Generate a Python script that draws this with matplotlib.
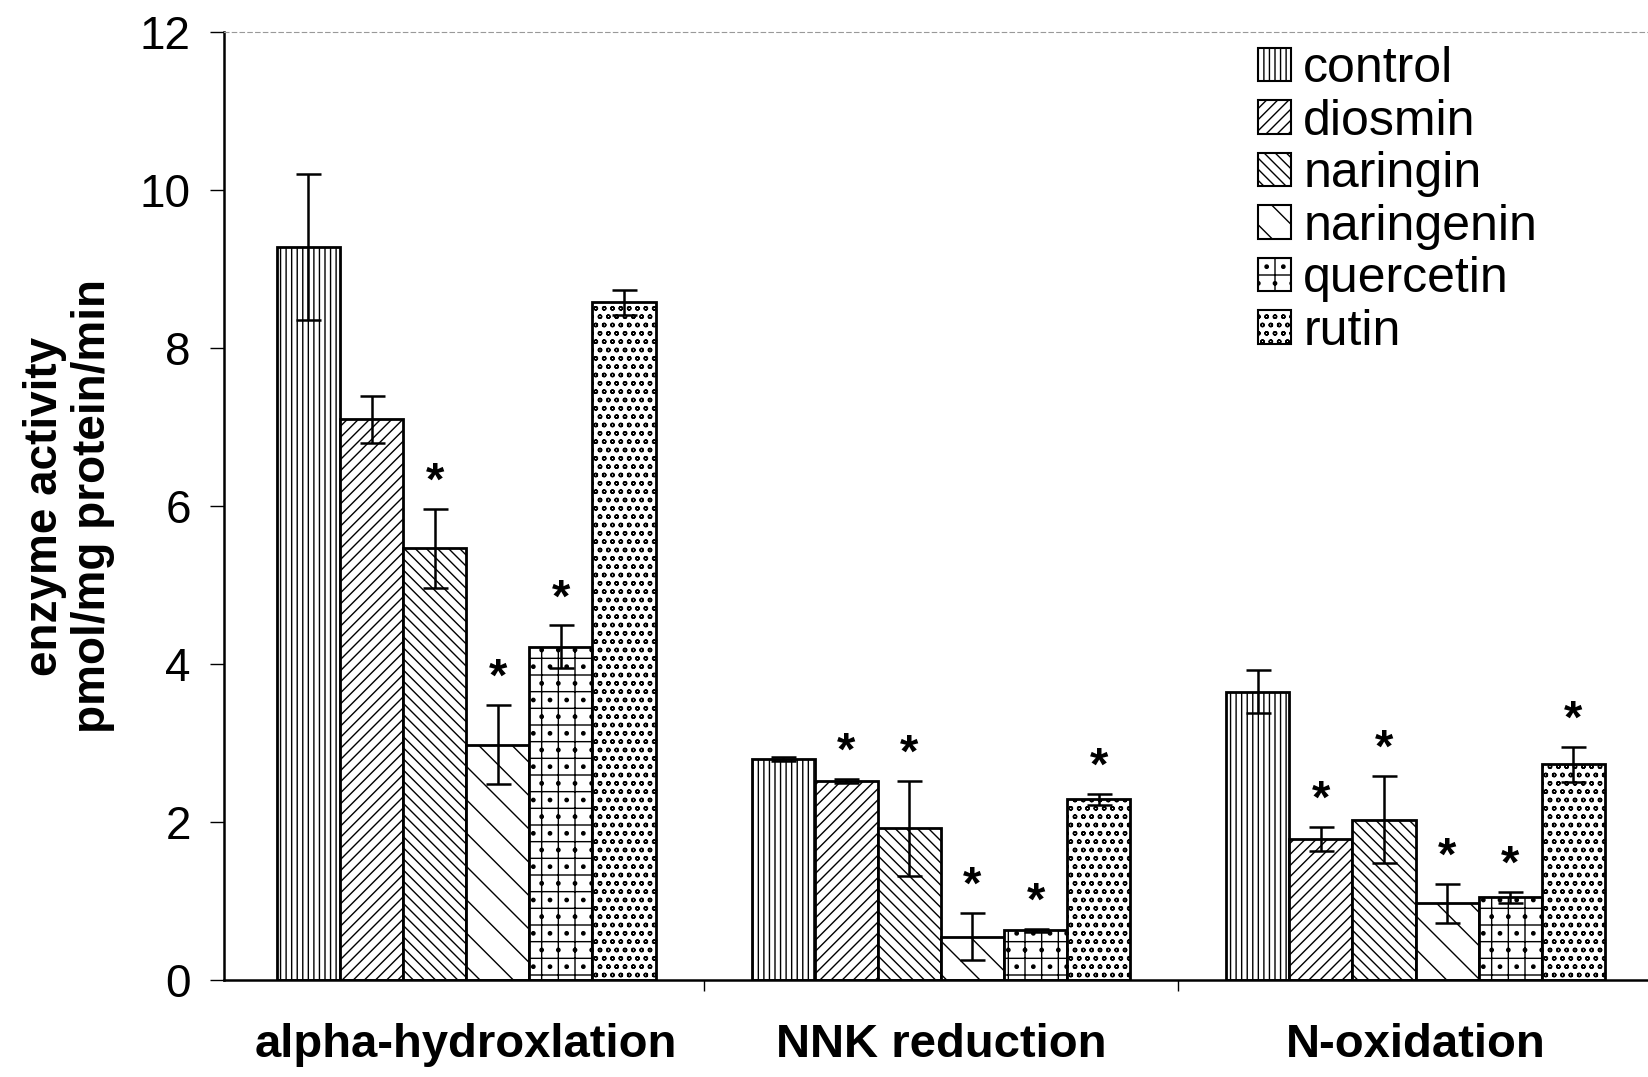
import numpy as np
import matplotlib.pyplot as plt
from matplotlib.patches import Patch

plt.rcParams['font.family'] = ['Liberation Sans', 'DejaVu Sans']
plt.rcParams['hatch.color'] = '#666666'
plt.rcParams['hatch.linewidth'] = 1.0

# data
categories = ['alpha-hydroxlation', 'NNK reduction', 'N-oxidation']
treatments = ['control', 'diosmin', 'naringin', 'naringenin', 'quercetin', 'rutin']

control = [9.28, 2.80, 3.65]
diosmin = [7.10, 2.52, 1.79]
naringin = [5.47, 1.92, 2.03]
naringenin = [2.98, 0.55, 0.97]
quercetin = [4.22, 0.63, 1.05]
rutin = [8.58, 2.29, 2.73]

control_err = [0.92, 0.03, 0.27]
diosmin_err = [0.30, 0.03, 0.15]
naringin_err = [0.50, 0.60, 0.55]
naringenin_err = [0.50, 0.30, 0.25]
quercetin_err = [0.27, 0.02, 0.07]
rutin_err = [0.16, 0.07, 0.22]

# significance stars (1 = marked)
control_sig = [0, 0, 0]
diosmin_sig = [0, 1, 1]
naringin_sig = [1, 1, 1]
naringenin_sig = [1, 1, 1]
quercetin_sig = [1, 1, 1]
rutin_sig = [0, 1, 1]

values = [control, diosmin, naringin, naringenin, quercetin, rutin]
errors = [control_err, diosmin_err, naringin_err, naringenin_err, quercetin_err, rutin_err]
sigs = [control_sig, diosmin_sig, naringin_sig, naringenin_sig, quercetin_sig, rutin_sig]
hatches = ['|||', '///', '\\\\\\', '\\', '+.', 'oo']

fig = plt.figure(figsize=(16.48, 10.77), dpi=100)
ax = fig.add_axes([0.136, 0.090, 0.867, 0.880])

x = np.arange(len(categories))
width = 0.133
for i, name in enumerate(treatments):
    pos = x + (i - 2.5) * width
    ax.bar(pos, values[i], width, color='white', edgecolor='black', linewidth=2,
           hatch=hatches[i], zorder=2)
    ax.errorbar(pos, values[i], yerr=errors[i], fmt='none', ecolor='black',
                elinewidth=1.8, capsize=9, capthick=1.8, zorder=3)
    for j in range(len(categories)):
        if sigs[i][j]:
            ax.annotate('*', (pos[j], values[i][j] + errors[i][j]),
                        textcoords='offset points', xytext=(0, 3),
                        ha='center', va='bottom', fontsize=34, fontweight='bold')

ax.set_xlim(-0.51, 2.5)
ax.set_ylim(0, 12)
ax.set_yticks(np.arange(0, 13, 2))
ax.tick_params(axis='y', labelsize=33, length=10, width=1, direction='out', pad=14)
ax.set_xticks([0.5, 1.5])
ax.set_xticklabels([])
ax.tick_params(axis='x', length=8, width=1, direction='out')
for j, cat in enumerate(categories):
    ax.text(x[j], -0.82, cat, ha='center', va='center', fontsize=34, fontweight='bold')

ax.spines['right'].set_visible(False)
ax.spines['top'].set_linestyle((0, (4, 3)))
ax.spines['top'].set_color('#999999')
ax.spines['top'].set_linewidth(0.8)
ax.spines['left'].set_linewidth(1.8)
ax.spines['bottom'].set_linewidth(1.8)

ax.set_ylabel('enzyme activity\npmol/mg protein/min', fontsize=33, fontweight='bold',
              labelpad=18, linespacing=1.1)

handles = [Patch(facecolor='white', edgecolor='black', hatch=hatches[i], linewidth=1.5)
           for i in range(len(treatments))]
ax.legend(handles, treatments, loc='upper right', bbox_to_anchor=(0.94, 1.017),
          frameon=False, fontsize=36, handlelength=0.65, handleheight=0.65,
          handletextpad=0.25, labelspacing=0.13, borderaxespad=0.2)

fig.savefig('out.png', dpi=100)
